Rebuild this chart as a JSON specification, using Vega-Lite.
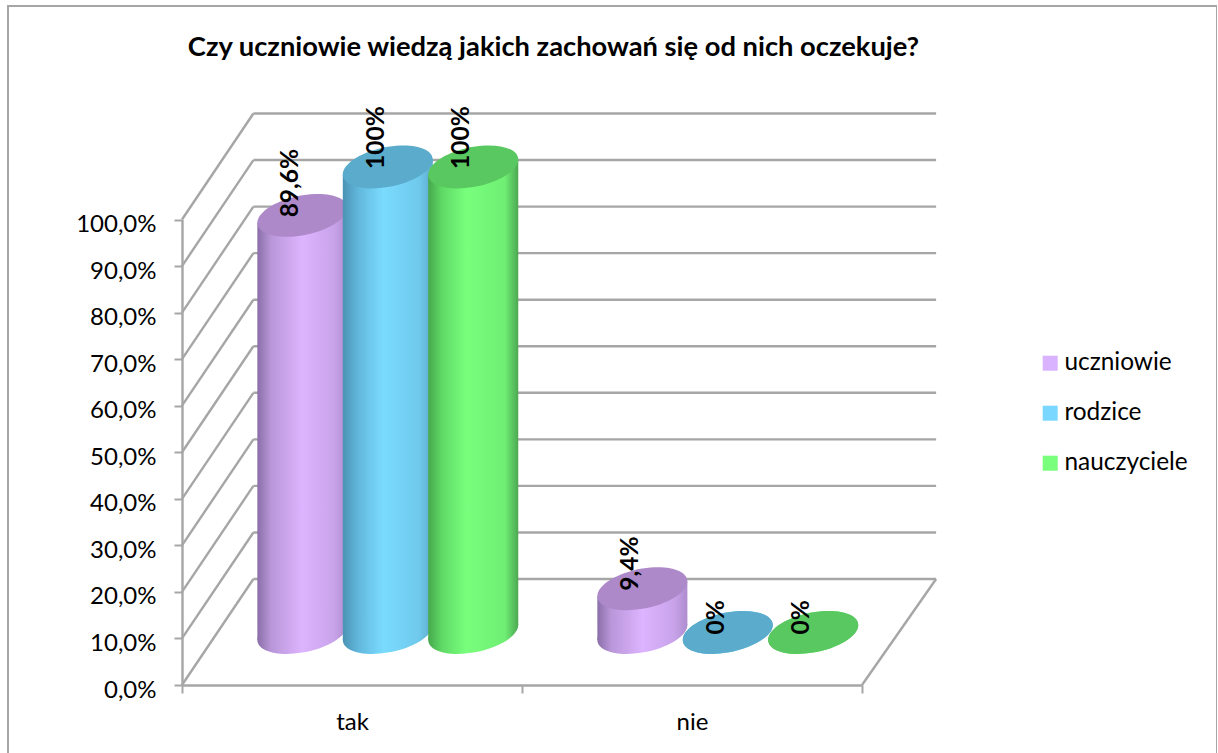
{"$schema":"https://vega.github.io/schema/vega-lite/v6.json","autosize":"none","padding":{"left":8,"top":6,"right":0,"bottom":0},"width":1209,"height":760,"background":"white","view":{"stroke":"#A6A6A6","strokeWidth":2},"title":{"text":"Czy uczniowie wiedzą jakich zachowań się od nich oczekuje?","font":"Lato","fontWeight":"bold","fontSize":27.3,"color":"black","anchor":"middle","frame":"group","dx":-59,"offset":-55},"config":{"font":"Lato","axis":{"grid":false}},"datasets":{"vals":[{"k":"tak","s":"uczniowie","v":89.6,"label":"89,6%"},{"k":"tak","s":"rodzice","v":100,"label":"100%"},{"k":"tak","s":"nauczyciele","v":100,"label":"100%"},{"k":"nie","s":"uczniowie","v":9.4,"label":"9,4%"},{"k":"nie","s":"rodzice","v":0,"label":"0%"},{"k":"nie","s":"nauczyciele","v":0,"label":"0%"}],"grid":[{"v":0},{"v":10},{"v":20},{"v":30},{"v":40},{"v":50},{"v":60},{"v":70},{"v":80},{"v":90},{"v":100}]},"layer":[{"data":{"name":"grid"},"transform":[{"calculate":"datum.v+22.77","as":"bv"}],"layer":[{"mark":{"type":"rule","color":"#A6A6A6","strokeWidth":2.4},"encoding":{"x":{"datum":0,"type":"quantitative","scale":{"domain":[0,2],"range":[174,854],"nice":false,"zero":false},"axis":{"title":null,"values":[0,0.5,1,1.5,2],"domainColor":"#A6A6A6","domainWidth":2.4,"tickColor":"#A6A6A6","tickWidth":2,"tickSize":8,"tickOpacity":{"condition":{"test":"datum.value % 1 == 0","value":1},"value":0},"labelExpr":"datum.value==0.5?'tak':datum.value==1.5?'nie':''","labelFontSize":24,"labelColor":"black","labelPadding":17,"labelFont":"Lato","labelOverlap":false,"offset":-81,"orient":"bottom"}},"x2":{"datum":0.21},"y":{"field":"v","type":"quantitative","scale":{"domain":[0,100],"range":[679,213.5],"nice":false,"zero":false},"axis":{"title":null,"values":[0,10,20,30,40,50,60,70,80,90,100],"domainColor":"#A6A6A6","domainWidth":2.4,"tickColor":"#A6A6A6","tickWidth":2,"tickSize":8,"labelExpr":"replace(format(datum.value,'.1f'),'.',',')+'%'","labelFontSize":24,"labelColor":"black","labelPadding":18,"labelFont":"Lato","labelOffset":5,"labelOverlap":false,"offset":-174,"orient":"left"}},"y2":{"field":"bv"}}},{"mark":{"type":"rule","color":"#A6A6A6","strokeWidth":2.4},"encoding":{"x":{"datum":0.21,"type":"quantitative"},"x2":{"datum":2.218},"y":{"field":"bv","type":"quantitative","title":null}}},{"transform":[{"filter":"datum.v==0"}],"mark":{"type":"rule","color":"#A6A6A6","strokeWidth":2.4},"encoding":{"x":{"datum":2,"type":"quantitative"},"x2":{"datum":2.218},"y":{"field":"v","type":"quantitative","title":null},"y2":{"field":"bv"}}}]},{"data":{"name":"vals"},"transform":[{"calculate":"indexof(['tak','nie'],datum.k)+0.354+0.2513*indexof(['uczniowie','rodzice','nauczyciele'],datum.s)","as":"cx"},{"calculate":"datum.cx-0.032","as":"tx"},{"calculate":"11.29","as":"yb"},{"calculate":"datum.v+11.29","as":"yt"},{"calculate":"[-1,1]","as":"e"},{"flatten":["e"]},{"calculate":"datum.cx+datum.e*0.1324","as":"xp"},{"calculate":"datum.yt+datum.e*1.61","as":"y1"},{"calculate":"datum.yb+datum.e*1.61","as":"y0"}],"layer":[{"transform":[{"filter":"datum.e==1"}],"mark":{"type":"square","size":100,"opacity":1},"encoding":{"x":{"field":"cx","type":"quantitative"},"y":{"field":"yb","type":"quantitative","title":null},"color":{"field":"s","type":"nominal","scale":{"domain":["uczniowie","rodzice","nauczyciele"],"range":["#D9B3FF","#7AD7FF","#79FF7C"]},"legend":{"title":null,"orient":"none","legendX":1030,"legendY":345,"symbolType":"square","symbolSize":225,"symbolOpacity":1,"labelFontSize":24.4,"labelColor":"black","labelFont":"Lato","rowPadding":25,"labelOffset":2}}}},{"transform":[{"filter":"datum.s=='uczniowie'"}],"layer":[{"mark":{"type":"area","line":false,"fill":{"gradient":"linear","x1":0,"x2":1,"y1":0,"y2":0,"stops":[{"offset":0,"color":"#8A6EA8"},{"offset":0.15,"color":"#B896D8"},{"offset":0.5,"color":"#DDB4FF"},{"offset":0.85,"color":"#C8A3EA"},{"offset":1,"color":"#AE8CCE"}]}},"encoding":{"x":{"field":"xp","type":"quantitative"},"y":{"field":"y1","type":"quantitative","title":null},"y2":{"field":"y0"},"detail":{"field":"k"}}},{"transform":[{"filter":"datum.e==1"}],"layer":[{"mark":{"type":"point","filled":true,"opacity":1,"size":8100,"shape":"M1,-.167 C1,.08 .5523,.355 0,.447 C-.5523,.539 -1,.414 -1,.167 C-1,-.08 -.5523,-.355 0,-.447 C.5523,-.539 1,-.414 1,-.167 Z","fill":{"gradient":"linear","x1":0,"x2":1,"y1":0,"y2":0,"stops":[{"offset":0,"color":"#8A6EA8"},{"offset":0.15,"color":"#B896D8"},{"offset":0.5,"color":"#DDB4FF"},{"offset":0.85,"color":"#C8A3EA"},{"offset":1,"color":"#AE8CCE"}]}},"encoding":{"x":{"field":"cx","type":"quantitative"},"y":{"field":"yb","type":"quantitative","title":null}}},{"mark":{"type":"point","filled":true,"opacity":1,"size":8100,"shape":"M1,-.167 C1,.08 .5523,.355 0,.447 C-.5523,.539 -1,.414 -1,.167 C-1,-.08 -.5523,-.355 0,-.447 C.5523,-.539 1,-.414 1,-.167 Z","fill":"#AD89C9"},"encoding":{"x":{"field":"cx","type":"quantitative"},"y":{"field":"yt","type":"quantitative","title":null}}}]}]},{"transform":[{"filter":"datum.s=='rodzice'"}],"layer":[{"mark":{"type":"area","line":false,"fill":{"gradient":"linear","x1":0,"x2":1,"y1":0,"y2":0,"stops":[{"offset":0,"color":"#4A93B5"},{"offset":0.18,"color":"#62B9DD"},{"offset":0.45,"color":"#7ADBFF"},{"offset":0.85,"color":"#6FC9EC"},{"offset":1,"color":"#5CA9CC"}]}},"encoding":{"x":{"field":"xp","type":"quantitative"},"y":{"field":"y1","type":"quantitative","title":null},"y2":{"field":"y0"},"detail":{"field":"k"}}},{"transform":[{"filter":"datum.e==1"}],"layer":[{"mark":{"type":"point","filled":true,"opacity":1,"size":8100,"shape":"M1,-.167 C1,.08 .5523,.355 0,.447 C-.5523,.539 -1,.414 -1,.167 C-1,-.08 -.5523,-.355 0,-.447 C.5523,-.539 1,-.414 1,-.167 Z","fill":{"gradient":"linear","x1":0,"x2":1,"y1":0,"y2":0,"stops":[{"offset":0,"color":"#4A93B5"},{"offset":0.18,"color":"#62B9DD"},{"offset":0.45,"color":"#7ADBFF"},{"offset":0.85,"color":"#6FC9EC"},{"offset":1,"color":"#5CA9CC"}]}},"encoding":{"x":{"field":"cx","type":"quantitative"},"y":{"field":"yb","type":"quantitative","title":null}}},{"mark":{"type":"point","filled":true,"opacity":1,"size":8100,"shape":"M1,-.167 C1,.08 .5523,.355 0,.447 C-.5523,.539 -1,.414 -1,.167 C-1,-.08 -.5523,-.355 0,-.447 C.5523,-.539 1,-.414 1,-.167 Z","fill":"#5BACCC"},"encoding":{"x":{"field":"cx","type":"quantitative"},"y":{"field":"yt","type":"quantitative","title":null}}}]}]},{"transform":[{"filter":"datum.s=='nauczyciele'"}],"layer":[{"mark":{"type":"area","line":false,"fill":{"gradient":"linear","x1":0,"x2":1,"y1":0,"y2":0,"stops":[{"offset":0,"color":"#46A84C"},{"offset":0.15,"color":"#5FD966"},{"offset":0.42,"color":"#78FF7C"},{"offset":0.85,"color":"#6FEF74"},{"offset":1,"color":"#4CA853"}]}},"encoding":{"x":{"field":"xp","type":"quantitative"},"y":{"field":"y1","type":"quantitative","title":null},"y2":{"field":"y0"},"detail":{"field":"k"}}},{"transform":[{"filter":"datum.e==1"}],"layer":[{"mark":{"type":"point","filled":true,"opacity":1,"size":8100,"shape":"M1,-.167 C1,.08 .5523,.355 0,.447 C-.5523,.539 -1,.414 -1,.167 C-1,-.08 -.5523,-.355 0,-.447 C.5523,-.539 1,-.414 1,-.167 Z","fill":{"gradient":"linear","x1":0,"x2":1,"y1":0,"y2":0,"stops":[{"offset":0,"color":"#46A84C"},{"offset":0.15,"color":"#5FD966"},{"offset":0.42,"color":"#78FF7C"},{"offset":0.85,"color":"#6FEF74"},{"offset":1,"color":"#4CA853"}]}},"encoding":{"x":{"field":"cx","type":"quantitative"},"y":{"field":"yb","type":"quantitative","title":null}}},{"mark":{"type":"point","filled":true,"opacity":1,"size":8100,"shape":"M1,-.167 C1,.08 .5523,.355 0,.447 C-.5523,.539 -1,.414 -1,.167 C-1,-.08 -.5523,-.355 0,-.447 C.5523,-.539 1,-.414 1,-.167 Z","fill":"#5AC860"},"encoding":{"x":{"field":"cx","type":"quantitative"},"y":{"field":"yt","type":"quantitative","title":null}}}]}]},{"transform":[{"filter":"datum.e==1"}],"mark":{"type":"text","angle":270,"align":"left","baseline":"middle","font":"Lato","fontWeight":"bold","fontSize":24.5,"color":"black","yOffset":2},"encoding":{"x":{"field":"tx","type":"quantitative"},"y":{"field":"yt","type":"quantitative","title":null},"text":{"field":"label"}}}]}]}
